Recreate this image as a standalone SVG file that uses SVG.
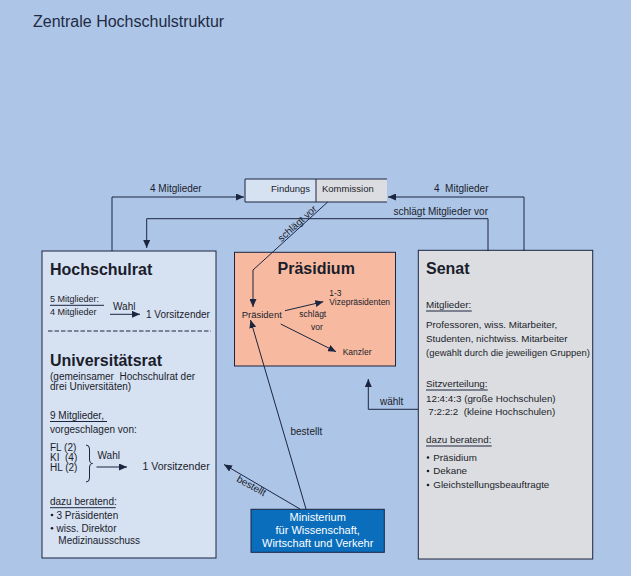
<svg xmlns="http://www.w3.org/2000/svg" width="631" height="576" viewBox="0 0 631 576">
<defs>
<marker id="ah" markerUnits="userSpaceOnUse" markerWidth="9" markerHeight="7" refX="8" refY="3.5" orient="auto">
<path d="M0,0 L8,3.5 L0,7 z" fill="#1c2540"/>
</marker>
</defs>
<style>
text{font-family:"Liberation Sans",Arial,sans-serif;fill:#1a1d2b;font-size:9.5px}
.t{font-size:16px;font-weight:bold}
.s{font-size:8.5px}
.l{font-size:10px}
.u{font-size:10px}
.sn{font-size:9.8px}
.w{fill:#ffffff;font-size:11px}
.box{stroke:#1c2540;stroke-width:1}
.c{fill:none;stroke:#1c2540;stroke-width:1}
</style>
<rect x="0" y="0" width="631" height="576" fill="#adc6e7"/>
<text x="33" y="27" style="font-size:16px;fill:#1f2a44">Zentrale Hochschulstruktur</text>

<g id="findungskommission">
<rect x="245" y="179" width="71" height="23" fill="#d6e1f2"/>
<rect x="316" y="179" width="71" height="23" fill="#dcdde0"/>
<path class="c" d="M387,179 H245 V202 H387 M316,179 V202"/>
<text x="271" y="192">Findungs</text>
<text x="322" y="192">Kommission</text>
</g>

<g id="hochschulrat">
<rect class="box" x="42" y="251" width="174" height="307" fill="#d6e1f2"/>
<text class="t" x="50" y="275">Hochschulrat</text>
<text x="50" y="302" style="font-size:9px">5 Mitglieder:</text>
<line class="c" x1="50" y1="305.3" x2="104" y2="305.3"/>
<text x="50" y="315" style="font-size:9px">4 Mitglieder</text>
<text class="l" x="113" y="310">Wahl</text>
<path class="c" d="M110,314.3 H140" marker-end="url(#ah)"/>
<text class="l" x="146" y="318">1 Vorsitzender</text>
<line class="c" x1="48" y1="331" x2="211" y2="331" stroke-dasharray="4.5 2"/>
<text class="t" x="50" y="366">Universitätsrat</text>
<text class="u" x="50" y="379.5" xml:space="preserve">(gemeinsamer  Hochschulrat der</text>
<text class="u" x="50" y="389.5">drei Universitäten)</text>
<text class="u" x="50" y="418.5">9 Mitglieder,</text>
<line class="c" x1="50" y1="421.5" x2="107" y2="421.5"/>
<text class="u" x="50" y="432.5">vorgeschlagen von:</text>
<text class="u" x="50" y="451">FL (2)</text>
<text class="u" x="50" y="460.5" xml:space="preserve">KI  (4)</text>
<text class="u" x="50" y="470.5">HL (2)</text>
<path class="c" d="M86,445 Q89.5,445 89.5,449 V459 Q89.5,463.5 92.5,463.5 Q89.5,463.5 89.5,468 V478 Q89.5,482 86,482"/>
<text class="l" x="97.5" y="458.5">Wahl</text>
<path class="c" d="M96.5,467 H127" marker-end="url(#ah)"/>
<text x="142.5" y="470" style="font-size:10.5px">1 Vorsitzender</text>
<text class="u" x="50" y="505">dazu beratend:</text>
<line class="c" x1="50" y1="507.7" x2="115.7" y2="507.7"/>
<circle cx="52" cy="515" r="1.3" fill="#1a1d2b"/>
<text class="u" x="56.5" y="518.5">3 Präsidenten</text>
<circle cx="52" cy="528.3" r="1.3" fill="#1a1d2b"/>
<text class="u" x="56.5" y="531.7">wiss. Direktor</text>
<text class="u" x="58.3" y="544.3">Medizinausschuss</text>
</g>

<g id="praesidium">
<rect class="box" x="234.5" y="252.3" width="161" height="113.7" fill="#f7baa0"/>
<text class="t" x="277.5" y="274.3">Präsidium</text>
<text x="241.7" y="318.3">Präsident</text>
<text class="s" x="329.3" y="296">1-3</text>
<text class="s" x="329.3" y="305">Vizepräsidenten</text>
<path class="c" d="M285,310.7 L323.3,301.7" marker-end="url(#ah)"/>
<text class="s" x="299.3" y="316.7">schlägt</text>
<text class="s" x="311" y="330">vor</text>
<path class="c" d="M280.7,324 L336,351.7" marker-end="url(#ah)"/>
<text class="s" x="342.7" y="355">Kanzler</text>
</g>

<g id="senat">
<rect class="box" x="418.3" y="250.3" width="174.4" height="308.7" fill="#dcdde0"/>
<text class="t" x="426" y="274.3">Senat</text>
<text class="sn" x="426" y="308.3">Mitglieder:</text>
<line class="c" x1="426" y1="311" x2="471.7" y2="311"/>
<text class="sn" x="426" y="328.3">Professoren, wiss. Mitarbeiter,</text>
<text class="sn" x="426" y="342.3">Studenten, nichtwiss. Mitarbeiter</text>
<text class="sn" x="426" y="355.7" textLength="164" lengthAdjust="spacingAndGlyphs">(gewählt durch die jeweiligen Gruppen)</text>
<text class="sn" x="426" y="387.3">Sitzverteilung:</text>
<line class="c" x1="426" y1="390" x2="487.7" y2="390"/>
<text class="sn" x="426" y="401.5">12:4:4:3 (große Hochschulen)</text>
<text class="sn" x="428.3" y="415" xml:space="preserve">7:2:2:2  (kleine Hochschulen)</text>
<text class="sn" x="426" y="442.7">dazu beratend:</text>
<line class="c" x1="426" y1="446" x2="491.7" y2="446"/>
<circle cx="428" cy="457.5" r="1.3" fill="#1a1d2b"/>
<text class="sn" x="433.3" y="460.7">Präsidium</text>
<circle cx="428" cy="471" r="1.3" fill="#1a1d2b"/>
<text class="sn" x="433.3" y="474.3">Dekane</text>
<circle cx="428" cy="485" r="1.3" fill="#1a1d2b"/>
<text class="sn" x="433.3" y="488.3">Gleichstellungsbeauftragte</text>
</g>

<g id="ministerium">
<rect class="box" x="251" y="509.3" width="133.3" height="43" fill="#0a6ebd"/>
<text class="w" x="317.7" y="520.7" text-anchor="middle">Ministerium</text>
<text class="w" x="317.7" y="534" text-anchor="middle">für Wissenschaft,</text>
<text class="w" x="317.7" y="546.7" text-anchor="middle">Wirtschaft und Verkehr</text>
</g>

<g id="connectors">
<path class="c" d="M112,251 V197 H244" marker-end="url(#ah)"/>
<path class="c" d="M524,251 V197 H388" marker-end="url(#ah)"/>
<path class="c" d="M488,251 V218.7 H146.7 V248" marker-end="url(#ah)"/>
<path class="c" d="M327.7,202 L253,270 V307" marker-end="url(#ah)"/>
<path class="c" d="M306,509 L250.5,320" marker-end="url(#ah)"/>
<path class="c" d="M300,509 L224,464.5" marker-end="url(#ah)"/>
<path class="c" d="M418,409.3 H368.3 V379" marker-end="url(#ah)"/>
<text class="l" x="150" y="192">4 Mitglieder</text>
<text class="l" x="434" y="192" xml:space="preserve">4  Mitglieder</text>
<text class="l" x="488" y="215" text-anchor="end">schlägt Mitglieder vor</text>
<text class="l" transform="translate(299.5,226) rotate(-42)" text-anchor="middle">schlägt vor</text>
<text class="l" x="290.5" y="435">bestellt</text>
<text class="l" transform="translate(236,481) rotate(29)">bestellt</text>
<text class="l" x="380" y="405">wählt</text>
</g>
</svg>
